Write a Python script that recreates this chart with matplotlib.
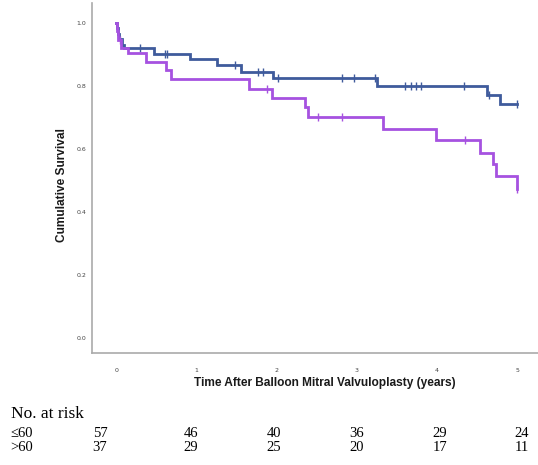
import matplotlib
matplotlib.use("Agg")
import matplotlib.pyplot as plt
import numpy as np

# ---- data ----
# Group <=60: event times (years) and survival after each step
le60_times = [0.0, 0.01, 0.02, 0.04, 0.07, 0.10, 0.47, 0.92, 1.26, 1.56, 1.96, 3.25, 4.62, 4.79, 5.00]
le60_surv  = [1.0, 0.983, 0.965, 0.947, 0.930, 0.918, 0.900, 0.883, 0.864, 0.844, 0.823, 0.800, 0.770, 0.740, 0.740]
le60_cens_t = [0.03, 0.30, 0.61, 0.64, 1.48, 1.77, 1.83, 2.02, 2.82, 2.96, 3.23, 3.60, 3.68, 3.74, 3.80, 4.34, 4.65, 5.00]

# Group >60
gt60_times = [0.0, 0.01, 0.03, 0.06, 0.15, 0.37, 0.62, 0.69, 1.66, 1.94, 2.36, 2.39, 3.33, 3.99, 4.54, 4.70, 4.74, 5.00]
gt60_surv  = [1.0, 0.973, 0.946, 0.920, 0.902, 0.874, 0.849, 0.820, 0.790, 0.759, 0.731, 0.699, 0.663, 0.627, 0.587, 0.551, 0.513, 0.470]
gt60_cens_t = [0.02, 0.05, 1.88, 2.52, 2.82, 4.35, 5.00]

x_ticks = [0, 1, 2, 3, 4, 5]
y_ticks = [0.0, 0.2, 0.4, 0.6, 0.8, 1.0]

risk_groups = ["\u226460", ">60"]
risk_le60 = [57, 46, 40, 36, 29, 24]
risk_gt60 = [37, 29, 25, 20, 17, 11]

blue = "#3f5b9c"
purple = "#a652e0"

W, H = 538, 465
fig = plt.figure(figsize=(W / 100, H / 100), dpi=100)
ax = fig.add_axes([92 / W, 1 - 353 / H, (538 - 92) / W, (353 - 3) / H])


def surv_at(times, surv, t):
    idx = np.searchsorted(times, t, side="right") - 1
    return surv[max(idx, 0)]


for times, surv, cens, col in [(le60_times, le60_surv, le60_cens_t, blue),
                               (gt60_times, gt60_surv, gt60_cens_t, purple)]:
    ax.step(times, surv, where="post", color=col, lw=2.0, solid_joinstyle="miter")
    cy = [surv_at(times, surv, t) for t in cens]
    ax.plot(cens, cy, ls="none", marker="|", ms=5.5, mew=1.0, color=col)

ax.set_xlim(-0.30, 5.26)
ax.set_ylim(-0.049, 1.062)
ax.set_xticks(x_ticks)
ax.set_yticks(y_ticks)
ax.set_xticklabels([str(v) for v in x_ticks])
ax.set_yticklabels([f"{v:.1f}" for v in y_ticks])
ax.tick_params(length=0, labelsize=4.5, colors="#444444")
ax.tick_params(axis="x", pad=11)
ax.tick_params(axis="y", pad=4)
for s in ["top", "right"]:
    ax.spines[s].set_visible(False)
for s in ["left", "bottom"]:
    ax.spines[s].set_color("#aaaaaa")
    ax.spines[s].set_linewidth(1.2)

ax.set_xlabel("Time After Balloon Mitral Valvuloplasty (years)", family="Liberation Sans",
              fontsize=8.6, fontweight="bold", color="#1a1a1a")
ax.set_ylabel("Cumulative Survival", family="Liberation Sans", fontsize=8.6,
              fontweight="bold", color="#1a1a1a")
# label positions in axes coordinates
ax.xaxis.set_label_coords((325 - 92) / (538 - 92), -(383 - 353) / (353 - 3))
ax.yaxis.set_label_coords(-(92 - 62) / (538 - 92), (353 - 185) / (353 - 3))
ax.xaxis.label.set_va("center")
ax.yaxis.label.set_va("center")

# ---- number at risk table ----
serif = "Liberation Serif"
fig.text(11 / W, 1 - 414 / H, "No. at risk", family=serif, fontsize=12.5, va="center", ha="left")
col_x = [100, 191, 274, 357, 440, 522]
for row_y, label, vals in [(433, risk_groups[0], risk_le60), (447, risk_groups[1], risk_gt60)]:
    fig.text(10 / W, 1 - row_y / H, label, family=serif, fontsize=10.5, va="center", ha="left")
    for cx, v in zip(col_x, vals):
        fig.text(cx / W, 1 - row_y / H, str(v), family=serif, fontsize=10.5, va="center", ha="center")

fig.savefig("out.png", dpi=100)
